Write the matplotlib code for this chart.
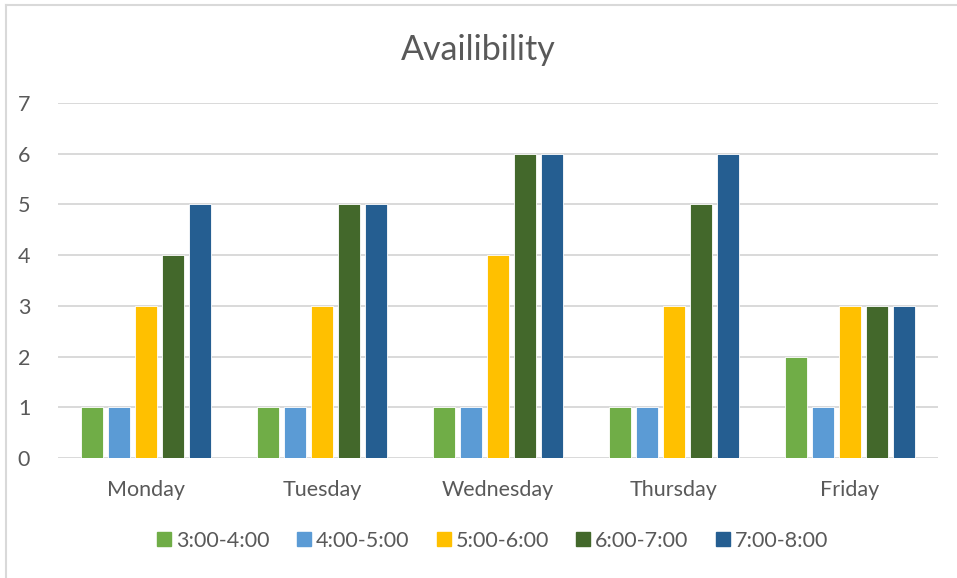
import numpy as np
import matplotlib.pyplot as plt
from matplotlib.lines import Line2D

days = ["Monday", "Tuesday", "Wednesday", "Thursday", "Friday"]
slots = ["3:00-4:00", "4:00-5:00", "5:00-6:00", "6:00-7:00", "7:00-8:00"]
slot_3_4 = [1, 1, 1, 1, 2]
slot_4_5 = [1, 1, 1, 1, 1]
slot_5_6 = [3, 3, 4, 3, 3]
slot_6_7 = [4, 5, 6, 5, 3]
slot_7_8 = [5, 5, 6, 6, 3]
colors = ["#70AD47", "#5B9BD5", "#FFC000", "#43682B", "#255E91"]

plt.rcParams['font.family'] = ['Lato', 'DejaVu Sans']
grey = "#595959"

fig = plt.figure(figsize=(9.57, 5.78), dpi=100)
ax = fig.add_axes([58 / 957, 1 - 458 / 578, 880 / 957, 355 / 578])

x = np.arange(len(days))
series = [slot_3_4, slot_4_5, slot_5_6, slot_6_7, slot_7_8]
pitch = 0.153
width = 0.125
for i, (vals, c) in enumerate(zip(series, colors)):
    ax.bar(x + (i - 2) * pitch, vals, width, color=c, label=slots[i],
           edgecolor="white", linewidth=0.6, zorder=3)

ax.set_xlim(-0.5, 4.5)
ax.set_ylim(0, 7)
ax.set_yticks(range(8))
ax.set_xticks(x)
ax.set_xticklabels(days)
ax.grid(axis="y", color="#D9D9D9", linewidth=1.4, zorder=0)
for s in ax.spines.values():
    s.set_visible(False)
ax.tick_params(axis="both", length=0, labelsize=15.5, colors=grey)
ax.tick_params(axis="x", pad=16)
ax.tick_params(axis="y", pad=20)

fig.text(0.5, 1 - 50 / 578, "Availibility", ha="center", va="center",
         fontsize=24.5, color=grey)

handles = [Line2D([], [], marker="s", linestyle="none", markersize=10,
                  markerfacecolor=c, markeredgecolor=c) for c in colors]
fig.legend(handles, slots, loc="center", bbox_to_anchor=(0.514, 1 - 541 / 578),
           ncol=5, frameon=False, fontsize=15.5, labelcolor=grey,
           handletextpad=0.15, columnspacing=1.2, handlelength=0.8)

# chart border (left and top visible in reference)
fig.add_artist(Line2D([6 / 957, 6 / 957], [0, 1 - 5 / 578], color="#D9D9D9", lw=1.5))
fig.add_artist(Line2D([6 / 957, 1], [1 - 5 / 578, 1 - 5 / 578], color="#D9D9D9", lw=1.5))

fig.savefig("out.png", dpi=100)
